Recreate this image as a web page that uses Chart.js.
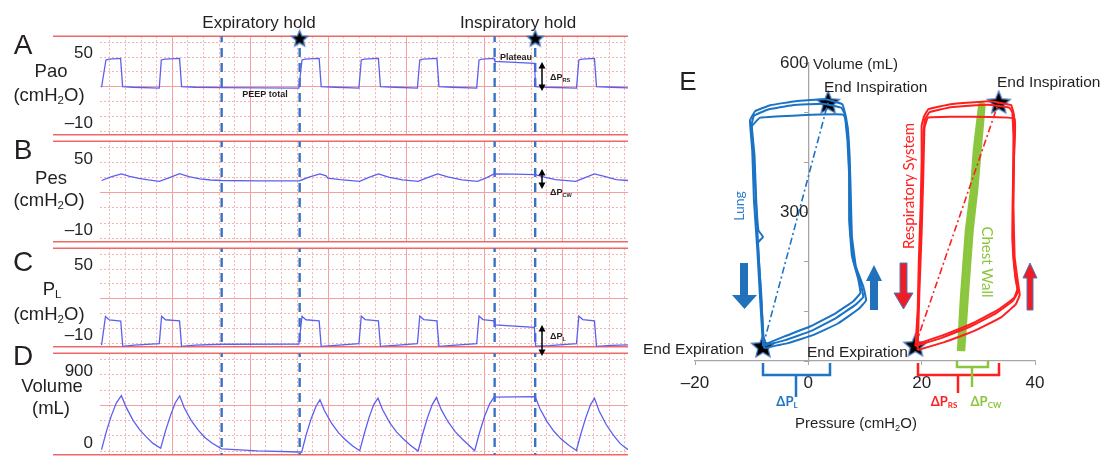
<!DOCTYPE html>
<html>
<head>
<meta charset="utf-8">
<script src="https://cdn.jsdelivr.net/npm/chart.js@4.4.1/dist/chart.umd.min.js"></script>
<style>
  html, body { margin: 0; background: #fff; }
  #fig { position: relative; width: 1104px; height: 459px; overflow: hidden;
         font-family: 'Liberation Sans', Arial, sans-serif; color: #231f20; }
  #fig canvas, #fig svg { position: absolute; }
  .t { position: absolute; white-space: nowrap; line-height: 1; transform: translate(-50%, -50%); }
  .l { position: absolute; white-space: nowrap; line-height: 1; transform: translateY(-50%); }
  .sub { font-size: 0.62em; position: relative; top: 0.3em; }
  .big { font-size: 28px; }
  .lab { font-size: 18.5px; }
  .ann { font-weight: bold; font-size: 9px; }
  .rot { font-family: Lato, 'Open Sans', sans-serif; }
  .dp { font-family: Lato, 'Open Sans', sans-serif; font-weight: bold; font-size: 13px; }
</style>
</head>
<body>
<div id="fig">
  <canvas id="cE" width="464" height="459" style="left:640px;top:0"></canvas>
  <svg id="ann" width="1104" height="459" style="left:0;top:0">
    <g fill="#000" stroke="#000" stroke-width="1.5">
      <line x1="542" y1="67" x2="542" y2="86"/>
      <polygon stroke="none" points="542,62 538.5,68.5 545.5,68.5"/>
      <polygon stroke="none" points="542,91 538.5,84.5 545.5,84.5"/>
      <line x1="542" y1="174" x2="542" y2="184"/>
      <polygon stroke="none" points="542,169 538.5,175.5 545.5,175.5"/>
      <polygon stroke="none" points="542,189 538.5,182.5 545.5,182.5"/>
      <line x1="542" y1="330" x2="542" y2="351"/>
      <polygon stroke="none" points="542,325 538.5,331.5 545.5,331.5"/>
      <polygon stroke="none" points="542,356 538.5,349.5 545.5,349.5"/>
    </g>
    <polygon fill="#2172ba" points="740,263 748,263 748,295 757,295 744.5,309 732,295 740,295"/>
    <polygon fill="#2172ba" points="874,265 882,281 878,281 878,310 870,310 870,281 866,281"/>
    <polygon fill="#ee1c25" stroke="#4a7bbd" stroke-width="1" points="900,263 907,263 907,293 913,293 903.5,309 894,293 900,293"/>
    <polygon fill="#ee1c25" stroke="#4a7bbd" stroke-width="1" points="1030,263 1037,278 1033,278 1033,310 1027,310 1027,278 1023,278"/>
    <path d="M763,363 V375 H830 V363 M796,375 V397" stroke="#1f75c4" stroke-width="2.5" fill="none"/>
    <path d="M918,363 V375 H999 V363 M958,375 V393" stroke="#ff1f1f" stroke-width="2.5" fill="none"/>
    <path d="M957,361 V367 H988 V361 M972,367 V387" stroke="#8cc63f" stroke-width="2.5" fill="none"/>
  </svg>

  <div class="t" style="left:259px;top:22px;font-size:17px">Expiratory hold</div>
  <div class="t" style="left:518px;top:22px;font-size:17px">Inspiratory hold</div>

  <div class="t big" style="left:23px;top:45px">A</div>
  <div class="t lab" style="left:51px;top:71px">Pao</div>
  <div class="t lab" style="left:49px;top:95px">(cmH<span class="sub">2</span>O)</div>
  <div class="t big" style="left:23px;top:150px">B</div>
  <div class="t lab" style="left:51px;top:178px">Pes</div>
  <div class="t lab" style="left:49px;top:200px">(cmH<span class="sub">2</span>O)</div>
  <div class="t big" style="left:23px;top:262px">C</div>
  <div class="t lab" style="left:52px;top:289px">P<span class="sub">L</span></div>
  <div class="t lab" style="left:49px;top:314px">(cmH<span class="sub">2</span>O)</div>
  <div class="t big" style="left:23px;top:356px">D</div>
  <div class="t lab" style="left:52px;top:386px">Volume</div>
  <div class="t lab" style="left:51px;top:408px">(mL)</div>

  <div class="t ann" style="left:265px;top:94px">PEEP total</div>
  <div class="t ann" style="left:516px;top:57px">Plateau</div>
  <div class="l ann" style="left:550px;top:77px">ΔP<span class="sub">RS</span></div>
  <div class="l ann" style="left:550px;top:192px">ΔP<span class="sub">CW</span></div>
  <div class="l ann" style="left:550px;top:336px">ΔP<span class="sub">L</span></div>

  <div class="t" style="left:688px;top:81px;font-size:26px">E</div>
  <div class="l" style="left:813px;top:63px;font-size:15px">Volume (mL)</div>
  <div class="l" style="left:824px;top:87px;font-size:15.5px">End Inspiration</div>
  <div class="l" style="left:997px;top:82px;font-size:15.5px">End Inspiration</div>
  <div class="l" style="left:643px;top:349px;font-size:15.5px">End Expiration</div>
  <div class="l" style="left:807px;top:352px;font-size:15.5px">End Expiration</div>
  <div class="t" style="left:856px;top:423px;font-size:15px">Pressure (cmH<span class="sub">2</span>O)</div>
  <div class="t rot" style="left:739px;top:206px;font-size:14px;color:#2e7dd1;transform:translate(-50%,-50%) rotate(-90deg)">Lung</div>
  <div class="t rot" style="left:908px;top:186px;font-size:15px;color:#ff2020;transform:translate(-50%,-50%) rotate(-90deg)">Respiratory System</div>
  <div class="t rot" style="left:987px;top:262px;font-size:15px;color:#8cc63f;transform:translate(-50%,-50%) rotate(90deg)">Chest Wall</div>
  <div class="t dp" style="left:787px;top:401px;color:#1f75c4">ΔP<span class="sub">L</span></div>
  <div class="t dp" style="left:944px;top:401px;color:#ff1f1f">ΔP<span class="sub">RS</span></div>
  <div class="t dp" style="left:986px;top:401px;color:#8cc63f">ΔP<span class="sub">CW</span></div>
</div>

<script>
const FONT = "'Liberation Sans', Arial, sans-serif";
const INK = '#231f20';
const TRACE = '#5b5ff0';
const BLUE = '#1a73c4';
const RED = '#ff1f1f';
const GREEN = '#8cc63f';
const AXIS = '#a6a6a6';

// ---- waveforms, time in s ----
const timeMin = 0.4, timeMax = 34.25;
const holdTimes = [8.2, 13.2, 25.7, 28.3];   // expiratory hold, inspiratory hold
const starTimes = [13.2, 28.3];
const starLevel = 63.4;
const pressureTicks = [50, -10];
const volumeTicks = [900, 0];

const paoTrace = [
  [0.5,21],[0.78,44.5],[1.0,45.2],[1.72,45.8],[1.85,21.5],[2.5,21],[4.2,20.3],
  [4.33,44.5],[4.55,45.2],[5.5,45.8],[5.63,21.5],[6.5,21],[8.2,20.7],[13.15,20.3],
  [13.35,44.5],[13.55,45.2],[14.45,45.8],[14.58,21.5],[15.5,21],[17.0,20.3],
  [17.15,44.5],[17.35,45.2],[18.25,45.8],[18.38,21.5],[19.3,21],[20.75,20.3],
  [20.9,44.5],[21.1,45.2],[22.0,45.8],[22.13,21.5],[23,21],[24.55,20.3],
  [24.7,44.5],[24.9,45.2],[25.66,45.8],[25.72,43.2],[28.25,41.5],[28.33,21.5],[29,21],[30.95,20.3],
  [31.1,44.5],[31.3,45.2],[32.1,45.8],[32.23,21.5],[33.2,21],[34.25,20.5]
];
const pesTrace = [
  [0.5,31.8],[1.1,34.8],[1.77,37.3],[2.3,35.2],[2.9,33.6],[3.5,32.3],[4.2,31.1],
  [4.9,34.5],[5.5,37.6],[6.1,35.0],[6.8,33.2],[7.5,32.2],[8.2,31.8],[10.5,31.5],[13.2,31.6],
  [13.8,34.6],[14.5,37.4],[14.9,35.8],[15.0,33.8],[15.8,32.6],[17.05,31.1],
  [17.6,34.3],[18.25,37.4],[18.9,34.6],[19.8,32.4],[20.8,31.0],
  [21.4,34.2],[22.05,37.4],[22.7,34.8],[23.6,32.4],[24.6,31.0],
  [25.2,34.3],[25.66,37.3],[27.0,37.2],[28.3,36.8],[28.9,34.6],[29.6,32.6],[30.9,31.0],
  [31.5,34.3],[32.1,37.4],[32.8,35.0],[33.5,32.6],[34.25,31.8]
];
const plTrace = [
  [0.5,-18.6],[0.75,6.1],[1.0,3.2],[1.73,2.2],[1.86,-19.6],[2.6,-18.6],[4.2,-17.3],
  [4.35,6.3],[4.6,3.3],[5.5,2.3],[5.63,-19.6],[6.5,-18.6],[8.2,-17.8],[13.15,-17.6],
  [13.35,6.3],[13.6,3.3],[14.45,2.3],[14.58,-19.6],[15.5,-18.8],[17.0,-17.3],
  [17.15,6.5],[17.4,3.5],[18.25,2.3],[18.38,-19.6],[19.3,-18.8],[20.75,-17.3],
  [20.9,6.5],[21.15,3.5],[22.0,2.3],[22.13,-19.6],[23,-18.8],[24.55,-17.3],
  [24.7,6.5],[24.95,3.5],[25.66,2.3],[25.72,-1.2],[28.25,-3.3],[28.33,-19.5],[29.2,-19],[30.95,-17.3],
  [31.1,6.5],[31.35,3.5],[32.1,2.3],[32.23,-19.6],[33.2,-18.8],[34.25,-18.3]
];
const volTrace = [
  [0.5,-85],[0.81,144],[1.13,342],[1.45,502],[1.77,592],
  [2.09,442],[2.52,282],[2.95,163],[3.38,72],[3.8,-7],[4.29,-67],
  [4.6,150],[4.92,345],[5.22,500],[5.51,590],
  [5.8,440],[6.25,280],[6.7,160],[7.1,70],[7.6,-5],[8.2,-75],[10.5,-100],[13.2,-115],
  [13.33,-118],[13.63,110],[13.95,310],[14.25,460],[14.5,541],
  [14.8,400],[15.25,245],[15.7,125],[16.15,35],[16.6,-40],[17.05,-100],
  [17.35,120],[17.65,320],[17.95,480],[18.22,561],
  [18.52,415],[18.97,255],[19.42,135],[19.87,45],[20.3,-30],[20.79,-103],
  [21.1,120],[21.4,320],[21.7,480],[21.97,568],
  [22.27,420],[22.72,262],[23.17,140],[23.62,48],[24.05,-30],[24.42,-99],
  [24.72,120],[25.05,330],[25.38,490],[25.66,573],[28.3,580],
  [28.6,430],[29.05,270],[29.5,145],[29.95,50],[30.45,-30],[30.94,-95],
  [31.24,120],[31.55,320],[31.85,480],[32.1,561],
  [32.4,400],[32.85,230],[33.3,100],[33.75,-10],[34.25,-85]
];

// ---- PV loops: pressure (cmH2O), volume (mL) ----
const pvPressureTicks = [-20, 0, 20, 40];
const pvVolumeLabels = [300, 600];
const lungLoop1 = [[-8.0,30],[-4.1,42],[0.4,60],[4.8,86],[8.3,113],[9.7,129],[9.2,157],[8.0,199],[7.4,263],[7.3,344],[7.1,424],[6.7,488],[6.0,517],[3.0,527],[-2.3,523],[-6.7,515],[-9.4,503],[-10.3,484],[-9.9,424],[-9.6,324],[-9.0,223],[-8.5,123],[-8.0,30]];
const lungLoop2 = [[-8.0,32],[-4.1,50],[0.4,70],[4.8,96],[8.0,121],[9.2,137],[8.8,165],[7.7,211],[7.2,284],[7.2,374],[6.9,444],[6.4,498],[5.8,510],[2.6,518],[-2.8,515],[-7.2,506],[-9.6,494],[-10.0,476],[-9.5,414],[-9.2,324],[-8.8,263],[-8.0,250],[-8.9,238],[-8.3,133],[-7.9,32]];
const lungLoop3 = [[-7.8,26],[-3.6,36],[0.8,52],[5.3,76],[8.8,104],[10.2,122],[9.7,150],[8.4,190],[7.7,250],[7.5,330],[7.3,410],[6.9,474],[6.2,496],[-1.4,495],[-8.5,490],[-10.0,472],[-9.6,400],[-9.2,310],[-8.8,220],[-8.3,120],[-7.8,26]];
const rsLoop1 = [[18.9,30],[23.4,46],[28.7,70],[33.1,96],[36.1,121],[37.0,139],[36.6,163],[36.1,223],[36.1,324],[36.3,424],[36.3,494],[35.8,515],[32.2,523],[25.1,517],[21.2,507],[20.4,492],[20.0,474],[20.0,404],[19.8,304],[19.5,203],[19.3,103],[18.9,30]];
const rsLoop2 = [[19.1,34],[23.8,52],[29.2,77],[33.6,104],[36.3,127],[36.9,145],[36.5,175],[36.0,250],[36.1,350],[36.2,450],[36.0,500],[35.5,510],[31.7,516],[25.1,511],[21.4,501],[20.6,487],[20.3,460],[20.2,390],[20.0,304],[19.7,210],[19.4,110],[19.1,34]];
const rsLoop3 = [[19.3,22],[24.0,38],[29.2,60],[34.0,88],[36.6,114],[37.3,133],[37.0,158],[36.4,210],[36.2,310],[36.3,410],[36.4,488],[28.7,492],[21.1,490],[20.5,470],[20.3,380],[20.0,260],[19.6,140],[19.3,22]];
const chestWallTrace = [[26.6,20],[27.1,123],[28.0,263],[28.9,344],[29.4,424],[30.4,518],[30.9,516],[30.2,424],[29.6,344],[28.8,263],[27.9,123],[27.3,20]];
const lungDiagonal = [[-8.0,30],[3.5,521]];
const rsDiagonal = [[18.9,32],[33.6,521]];
const pvStars = [[-8.0,30],[3.5,521],[18.9,32],[33.6,521]];

function fmtTick(v) { return v < 0 ? '\u2013' + Math.abs(v) : String(v); }

function makeStar(r) {
  const c = document.createElement('canvas');
  const s = Math.ceil(r * 2 + 4);
  c.width = c.height = s;
  const g = c.getContext('2d');
  g.beginPath();
  for (let i = 0; i < 10; i++) {
    const rad = i % 2 ? r * 0.45 : r;
    const a = -Math.PI / 2 + i * Math.PI / 5;
    g.lineTo(s / 2 + rad * Math.cos(a), s / 2 + 1 + rad * Math.sin(a));
  }
  g.closePath();
  g.fillStyle = '#000';
  g.fill();
  g.strokeStyle = '#4a7bbd';
  g.lineWidth = 1.3;
  g.stroke();
  return c;
}
const smallStar = makeStar(8.5);
const bigStar = makeStar(12);

// pink recorder grid + hold markers, through the panel's scales
const ekgGrid = {
  id: 'ekgGrid',
  beforeDatasetsDraw(chart, args, o) {
    const { ctx, chartArea: a, scales: { x, y } } = chart;
    ctx.save();
    ctx.lineWidth = 1;
    for (let t = Math.ceil(x.min); t <= x.max; t++) {
      const px = Math.round(x.getPixelForValue(t)) + 0.5;
      const major = t % 5 === 0;
      ctx.strokeStyle = major ? '#f5a0a0' : '#f5b4b4';
      ctx.setLineDash(major ? [] : [2, 2]);
      ctx.beginPath(); ctx.moveTo(px, a.top); ctx.lineTo(px, a.bottom); ctx.stroke();
    }
    for (let k = -4; k <= 4; k++) {
      const v = o.major + k * o.step;
      if (v <= y.min || v >= y.max) continue;
      const py = Math.round(y.getPixelForValue(v)) + 0.5;
      ctx.strokeStyle = k === 0 ? '#f5a0a0' : '#f5b4b4';
      ctx.setLineDash(k === 0 ? [] : [2, 2]);
      ctx.beginPath(); ctx.moveTo(a.left, py); ctx.lineTo(a.right, py); ctx.stroke();
    }
    ctx.setLineDash([]);
    ctx.strokeStyle = '#f06868';
    ctx.lineWidth = 1.6;
    [a.top, a.bottom].forEach(py => {
      ctx.beginPath(); ctx.moveTo(o.left, py); ctx.lineTo(a.right, py); ctx.stroke();
    });
    // dashed hold lines, phase kept continuous across panels
    ctx.strokeStyle = '#3a72c3';
    ctx.lineWidth = 2.4;
    ctx.setLineDash([9, 6]);
    ctx.lineDashOffset = (a.top + o.canvasTop - 33) % 15;
    o.holds.forEach(t => {
      const px = x.getPixelForValue(t);
      ctx.beginPath(); ctx.moveTo(px, a.top); ctx.lineTo(px, a.bottom); ctx.stroke();
    });
    ctx.restore();
  }
};

const panels = [
  { top: 33, bottom: 138, trace: paoTrace, min: -20, max: 65, ticks: pressureTicks, major: 21.8, step: 12.8, stars: true },
  { top: 138, bottom: 245, trace: pesTrace, min: -20, max: 65, ticks: pressureTicks, major: 21.8, step: 12.8 },
  { top: 245, bottom: 350, trace: plTrace, min: -20, max: 65, ticks: pressureTicks, major: 21.8, step: 12.8 },
  { top: 350, bottom: 458, trace: volTrace, min: -150, max: 1125, ticks: volumeTicks, major: 477, step: 192 }
];

const fig = document.getElementById('fig');
const overlay = document.getElementById('ann');
panels.forEach(p => {
  const pad = 14;
  const cv = document.createElement('canvas');
  cv.width = 640;
  cv.height = p.bottom - p.top + pad * 2;
  cv.style.left = '0px';
  cv.style.top = (p.top - pad) + 'px';
  fig.insertBefore(cv, overlay);

  const datasets = [{ data: p.trace, borderColor: TRACE, borderWidth: 1.3, pointRadius: 0, tension: 0 }];
  if (p.stars) {
    datasets.push({ data: starTimes.map(t => [t, starLevel]), showLine: false,
      pointStyle: smallStar, pointRadius: 5, clip: false });
  }
  new Chart(cv, {
    type: 'line',
    data: { datasets },
    options: {
      responsive: false, animation: false, events: [],
      layout: { padding: { left: 0, right: 12, top: pad, bottom: pad } },
      plugins: {
        legend: { display: false }, tooltip: { enabled: false },
        ekgGrid: { major: p.major, step: p.step, left: 53, canvasTop: p.top - pad, holds: holdTimes }
      },
      scales: {
        x: { type: 'linear', min: timeMin, max: timeMax, display: false },
        y: {
          min: p.min, max: p.max,
          afterBuildTicks: s => { s.ticks = p.ticks.map(v => ({ value: v })); },
          afterFit: s => { s.width = 100; },
          grid: { display: false, drawTicks: false },
          border: { display: false },
          ticks: { padding: 7, color: INK, font: { size: 17, family: FONT }, callback: fmtTick }
        }
      }
    },
    plugins: [ekgGrid]
  });
});

function loop(data, color, width) {
  return { data, borderColor: color, borderWidth: width || 2, showLine: true, pointRadius: 0, tension: 0.08 };
}

new Chart(document.getElementById('cE'), {
  type: 'scatter',
  data: {
    datasets: [
      loop(lungLoop1, BLUE), loop(lungLoop2, BLUE), loop(lungLoop3, BLUE),
      loop(rsLoop1, RED), loop(rsLoop2, RED), loop(rsLoop3, RED),
      { data: lungDiagonal, borderColor: BLUE, borderWidth: 1.6, borderDash: [7, 3, 2, 3], showLine: true, pointRadius: 0 },
      { data: rsDiagonal, borderColor: RED, borderWidth: 1.6, borderDash: [7, 3, 2, 3], showLine: true, pointRadius: 0 },
      loop(chestWallTrace, GREEN, 4.5),
      { data: pvStars, pointStyle: bigStar, pointRadius: 6, showLine: false, clip: false }
    ]
  },
  options: {
    responsive: false, animation: false, events: [],
    layout: { padding: { left: 55, right: 69, top: 63, bottom: 0 } },
    plugins: { legend: { display: false }, tooltip: { enabled: false } },
    scales: {
      x: {
        type: 'linear', min: -20, max: 40,
        afterBuildTicks: s => { s.ticks = pvPressureTicks.map(v => ({ value: v })); },
        afterFit: s => { s.height = 98; },
        grid: { drawOnChartArea: false, drawTicks: true, tickLength: 4, color: AXIS },
        border: { color: AXIS, width: 1.3 },
        ticks: { padding: 8, color: INK, font: { size: 17, family: FONT }, callback: fmtTick, autoSkip: false, maxRotation: 0 }
      },
      y: {
        type: 'linear', position: { x: 0 }, min: 0, max: 600,
        grid: { drawOnChartArea: false, drawTicks: true, tickLength: 4, color: AXIS },
        border: { color: AXIS, width: 1.3 },
        ticks: { stepSize: 100, padding: 2, color: INK, font: { size: 17, family: FONT },
          callback: v => pvVolumeLabels.includes(v) ? String(v) : '' }
      }
    }
  }
});
</script>
</body>
</html>
